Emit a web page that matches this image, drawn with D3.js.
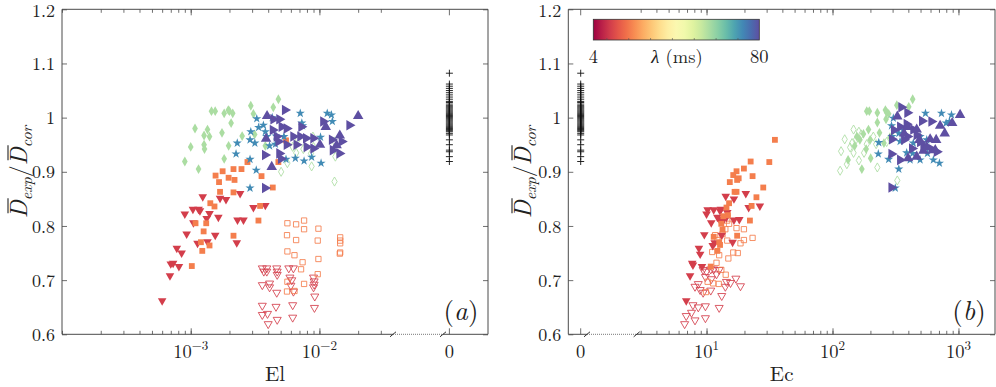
<!DOCTYPE html>
<html>
<head>
<meta charset="utf-8">
<script src="https://cdn.jsdelivr.net/npm/d3@7"></script>
<style>
  body { margin: 0; background: #fff; }
</style>
</head>
<body>
<div id="chart"></div>
<script>
// ---- Datos ----
var yTicks = [0.6, 0.7, 0.8, 0.9, 1.0, 1.1, 1.2];
var yTickLabels = ["0.6", "0.7", "0.8", "0.9", "1", "1.1", "1.2"];
var elTicks = [1e-3, 1e-2];
var elTickExp = ["\u22123", "\u22122"];
var ecTicks = [10, 100, 1000];
var ecTickExp = ["1", "2", "3"];
var lambdaRange = [4, 80];
// lambda (ms) de cada serie, da el color
var lambdaSeries = { red: 12, orange: 21, green: 57, blue: 72, purple: 80 };

// casos con El = Ec = 0
var plusY = [1.082, 1.062, 1.058, 1.054, 1.050, 1.046, 1.042, 1.038, 1.034, 1.030, 1.028, 1.025, 1.022, 1.020,
  1.018, 1.016, 1.014, 1.012, 1.010, 1.008, 1.006, 1.004, 1.002, 1.000, 0.998, 0.996, 0.994, 0.992, 0.990,
  0.988, 0.986, 0.984, 0.982, 0.980, 0.978, 0.976, 0.974, 0.971, 0.968, 0.959, 0.950, 0.940, 0.937, 0.928, 0.919];

// panel (a): [El, Dexp/Dcor]
var elRedFill = [[6.0e-4,0.662],[6.9e-4,0.708],[7.0e-4,0.730],[7.3e-4,0.731],[8.1e-4,0.725],[7.8e-4,0.759],[8.5e-4,0.750],
  [9.3e-4,0.785],[9.0e-4,0.822],[1.04e-3,0.831],[1.05e-3,0.806],[1.15e-3,0.831],[1.18e-3,0.828],[1.24e-3,0.854],
  [1.33e-3,0.814],[1.40e-3,0.823],[1.13e-3,0.768],[1.35e-3,0.771],[1.55e-3,0.783],[1.64e-3,0.816],[1.69e-3,0.851],
  [1.88e-3,0.849],[2.42e-3,0.860],[2.31e-3,0.811],[2.57e-3,0.811],[2.28e-3,0.769],[3.07e-3,0.834],[3.8e-3,0.838]];
var elOrangeFill = [[1.02e-3,0.726],[1.23e-3,0.754],[1.2e-3,0.770],[1.26e-3,0.790],[1.09e-3,0.805],[1.32e-3,0.805],
  [1.40e-3,0.764],[1.42e-3,0.842],[1.53e-3,0.836],[1.56e-3,0.893],[1.66e-3,0.881],[1.69e-3,0.863],[1.77e-3,0.901],
  [1.97e-3,0.889],[2.15e-3,0.905],[2.19e-3,0.885],[2.15e-3,0.862],[2.48e-3,0.905],[2.76e-3,0.918],[3.55e-3,0.892],
  [4.34e-3,0.871],[3.46e-3,0.837],[3.36e-3,0.810],[2.15e-3,0.782],[4.8e-3,0.918],[5.5e-3,0.958]];
var elGreenFill = [[9.0e-4,0.919],[1.0e-3,0.946],[1.15e-3,0.905],[1.08e-3,0.980],[1.27e-3,0.967],[1.27e-3,0.950],
  [1.28e-3,0.942],[1.35e-3,0.978],[1.40e-3,0.965],[1.45e-3,1.012],[1.55e-3,1.012],[1.75e-3,0.972],[1.82e-3,1.008],
  [1.96e-3,1.014],[2.0e-3,1.012],[2.12e-3,1.008],[2.06e-3,0.990],[1.97e-3,0.948],[1.82e-3,0.924],[2.51e-3,0.966],
  [2.93e-3,1.022],[3.07e-3,1.007],[3.14e-3,0.969],[3.8e-3,0.948],[4.38e-3,1.019],[4.8e-3,1.034]];
var elGreenOpen = [[5.04e-3,0.900],[5.64e-3,0.916],[6.2e-3,0.946],[6.6e-3,0.935],[8.7e-3,0.910],[8.9e-3,0.965],
  [9.0e-3,0.946],[1.31e-2,0.882],[1.33e-2,0.928],[1.31e-2,0.956],[5.6e-3,0.953],[8.6e-3,0.934],[6.8e-3,0.960],[7.5e-3,0.942]];
var elBlueStar = [[2.89e-3,0.870],[3.23e-3,0.903],[2.25e-3,0.933],[2.3e-3,0.953],[2.89e-3,0.959],[2.93e-3,0.974],
  [2.89e-3,0.923],[3.15e-3,0.953],[3.26e-3,0.998],[3.37e-3,0.982],[3.67e-3,0.986],[3.8e-3,0.974],[3.9e-3,0.965],
  [4.1e-3,0.948],[4.3e-3,1.0],[4.6e-3,0.966],[4.55e-3,0.951],[5.3e-3,0.965],[5.5e-3,0.923],[6.5e-3,0.925],
  [7.1e-3,1.008],[7.3e-3,0.990],[1.02e-2,0.964],[1.03e-2,0.916],[1.15e-2,1.008],[1.24e-2,1.005],[1.26e-2,0.993],
  [7.4e-3,0.985],[7.6e-3,0.920],[8.7e-3,0.927]];
var elPurpleRight = [[5.4e-3,1.014],[4.39e-3,0.997],[4.88e-3,0.997],[5.09e-3,0.983],[5.57e-3,0.980],[4.34e-3,0.977],
  [4.66e-3,0.965],[4.80e-3,0.956],[6.27e-3,0.965],[7.24e-3,0.983],[7.1e-3,0.965],[7.87e-3,0.962],[8.97e-3,0.962],
  [1.07e-2,0.993],[1.25e-2,0.959],[1.49e-2,0.956],[1.71e-2,0.986],[1.27e-2,0.940],[1.43e-2,0.934],[8.97e-3,0.943],
  [7.96e-3,0.946],[6.64e-3,0.950],[5.57e-3,0.950],[4.88e-3,0.934],[5.03e-3,0.924],[3.78e-3,0.931],[3.78e-3,0.870]];
var elPurpleUp = [[3.92e-3,1.003],[3.85e-3,0.961],[4.26e-3,0.909],[1.12e-2,0.983],[1.44e-2,0.967],[2.0e-2,1.003],
  [1.36e-2,0.949],[1.01e-2,0.950]];
var elRedOpen = [[3.6e-3,0.722],[3.9e-3,0.722],[3.9e-3,0.716],[3.7e-3,0.716],[4.66e-3,0.722],[4.7e-3,0.716],
  [4.7e-3,0.710],[5.78e-3,0.722],[6.28e-3,0.722],[3.6e-3,0.691],[4.1e-3,0.694],[4.1e-3,0.687],[4.66e-3,0.677],
  [5.9e-3,0.705],[6.1e-3,0.700],[6.0e-3,0.690],[6.28e-3,0.679],[3.6e-3,0.653],[4.6e-3,0.651],[6.2e-3,0.654],
  [3.6e-3,0.636],[3.95e-3,0.638],[4.0e-3,0.619],[4.7e-3,0.627],[6.2e-3,0.631],[9.0e-3,0.705],[9.1e-3,0.698],
  [9.1e-3,0.692],[9.0e-3,0.687],[9.2e-3,0.670],[9.15e-3,0.649]];
var elOrangeOpen = [[5.64e-3,0.805],[6.59e-3,0.803],[7.6e-3,0.810],[5.6e-3,0.783],[6.59e-3,0.774],[7.6e-3,0.794],
  [9.82e-3,0.795],[9.7e-3,0.773],[5.64e-3,0.753],[6.4e-3,0.746],[7.4e-3,0.733],[7.2e-3,0.720],[9.82e-3,0.739],
  [9.7e-3,0.711],[5.64e-3,0.697],[5.6e-3,0.679],[6.4e-3,0.680],[7.6e-3,0.693],[1.45e-2,0.779],[1.45e-2,0.773],
  [1.45e-2,0.768],[1.45e-2,0.751],[1.44e-2,0.749]];

// panel (b): [Ec, Dexp/Dcor]
var ecRedFill = [[14.2,0.855],[20.5,0.860],[16.5,0.850],[10.2,0.830],[11.4,0.830],[12.8,0.828],[10.0,0.822],
  [13.0,0.831],[14.4,0.816],[13.7,0.812],[12.8,0.810],[16.5,0.811],[18.2,0.812],[21.6,0.834],[26.5,0.837],
  [10.9,0.806],[13.2,0.783],[9.6,0.784],[11.6,0.769],[11.2,0.764],[8.7,0.759],[8.9,0.748],[7.7,0.731],[7.8,0.728],
  [9.2,0.725],[7.4,0.708],[6.9,0.662],[16.1,0.770],[13.1,0.810],[14.6,0.825],[12.2,0.816]];
var ecOrangeFill = [[34.9,0.959],[31.5,0.918],[22.4,0.919],[19.8,0.906],[17.3,0.901],[16.3,0.894],[15.3,0.881],
  [18.0,0.888],[17.5,0.885],[23.2,0.892],[28.2,0.871],[16.7,0.863],[17.3,0.863],[24.9,0.853],[15.1,0.842],
  [14.4,0.834],[22.8,0.837],[22.1,0.810],[14.8,0.820],[13.1,0.804],[17.5,0.782],[12.8,0.765],[12.6,0.770],
  [12.2,0.754],[10.8,0.725],[11.4,0.780],[13.6,0.818],[13.4,0.793]];
var ecGreenFill = [[187,1.012],[196,1.012],[227,1.009],[263,1.014],[269,1.010],[279,1.007],[324,1.023],[403,1.020],
  [433,1.034],[227,0.991],[266,0.997],[176,0.970],[193,0.978],[156,0.965],[165,0.959],[150,0.948],[199,0.959],
  [236,0.972],[185,0.942],[201,0.925],[171,0.905],[133,0.922],[256,0.953],[286,0.964],[304,0.977]];
var ecGreenOpen = [[125,0.960],[147,0.978],[162,0.974],[154,0.960],[143,0.953],[117,0.938],[130,0.914],[115,0.902],
  [147,0.935],[162,0.921],[178,0.935],[187,0.951],[222,0.951],[227,0.908],[269,0.955],[327,0.884],[138,0.945],
  [169,0.969],[211,0.965]];
var ecBlueStar = [[233,0.954],[231,0.933],[279,0.923],[294,0.985],[304,0.999],[336,0.971],[344,0.956],[388,0.935],
  [433,0.934],[413,0.922],[496,0.922],[547,1.008],[567,0.934],[733,1.008],[849,0.993],[880,1.005],[798,0.990],
  [632,0.922],[706,0.916],[336,0.905],[315,0.870],[296,0.965],[365,0.977],[496,0.965],[438,0.953],[560,0.959]];
var ecPurpleRight = [[294,0.871],[352,1.019],[393,1.009],[297,0.960],[308,0.977],[344,0.983],[388,0.988],[393,0.965],
  [466,0.968],[514,0.994],[610,0.993],[527,0.948],[610,0.942],[673,0.937],[428,0.943],[496,0.955],[294,0.933],
  [344,0.922],[370,0.959],[438,0.978]];
var ecPurpleUp = [[327,1.002],[393,0.983],[466,0.978],[490,0.959],[596,0.960],[715,0.985],[778,0.971],[1030,1.005],
  [891,0.990],[398,0.925],[527,0.939],[665,0.959],[466,0.928],[560,0.946],[654,0.940],[370,0.971]];
var ecRedOpen = [[9.4,0.719],[10.0,0.716],[10.8,0.720],[11.4,0.720],[12.6,0.719],[9.8,0.706],[10.9,0.702],[12.0,0.711],
  [14.4,0.697],[15.5,0.695],[17.1,0.703],[18.6,0.689],[8.6,0.693],[8.1,0.688],[8.9,0.682],[9.4,0.677],[10.8,0.681],
  [14.1,0.688],[13.2,0.671],[7.8,0.654],[8.6,0.650],[9.8,0.652],[12.6,0.649],[7.6,0.640],[6.9,0.634],[8.1,0.626],
  [9.8,0.630],[6.7,0.619]];
var ecOrangeOpen = [[14.6,0.810],[15.1,0.804],[14.1,0.794],[17.3,0.796],[19.8,0.794],[11.7,0.783],[13.4,0.785],
  [12.2,0.774],[14.6,0.773],[18.6,0.768],[19.8,0.774],[23.2,0.778],[11.1,0.752],[12.6,0.746],[16.3,0.751],
  [17.7,0.750],[14.9,0.740],[12.0,0.732],[13.1,0.719],[14.2,0.710],[12.5,0.693],[10.2,0.697],[9.9,0.678],[11.3,0.694]];

// ---- Estilo de las series ----
var seriesStyle = {
  greenOpen:   { sym: d3.symbolDiamond,  size: 24, rot: 0,   lam: "green",  fill: false },
  redOpen:     { sym: d3.symbolTriangle, size: 28, rot: 180, lam: "red",    fill: false },
  orangeOpen:  { sym: d3.symbolSquare,   size: 28, rot: 0,   lam: "orange", fill: false },
  redFill:     { sym: d3.symbolTriangle, size: 32, rot: 180, lam: "red",    fill: true },
  orangeFill:  { sym: d3.symbolSquare,   size: 34, rot: 0,   lam: "orange", fill: true },
  greenFill:   { sym: d3.symbolDiamond,  size: 28, rot: 0,   lam: "green",  fill: true },
  blueStar:    { sym: d3.symbolStar,     size: 26, rot: 0,   lam: "blue",   fill: true },
  purpleRight: { sym: d3.symbolTriangle, size: 48, rot: 90,  lam: "purple", fill: true },
  purpleUp:    { sym: d3.symbolTriangle, size: 48, rot: 0,   lam: "purple", fill: true }
};
var drawOrder = ["greenOpen", "redOpen", "orangeOpen", "redFill", "orangeFill", "greenFill", "blueStar", "purpleRight", "purpleUp"];

var W = 996, H = 387;
var plotTop = 9.3, plotBottom = 334.3;
var axisColor = "#4a4a4a";
var serif = "'Latin Modern Roman'";

var panels = [
  { left: 62, right: 488, logDomain: [1e-4, 0.0373], logRange: [62, 393], brk: [393, 443], zeroX: 449.4,
    ticks: elTicks, tickExp: elTickExp, xLabel: "El", letter: "a", letterX: 461, yLabelX: 27,
    data: { greenOpen: elGreenOpen, redOpen: elRedOpen, orangeOpen: elOrangeOpen, redFill: elRedFill,
            orangeFill: elOrangeFill, greenFill: elGreenFill, blueStar: elBlueStar,
            purpleRight: elPurpleRight, purpleUp: elPurpleUp } },
  { left: 568.3, right: 995, logDomain: [2.79, 1950], logRange: [636.7, 995], brk: [587, 636.7], zeroX: 580.7,
    ticks: ecTicks, tickExp: ecTickExp, xLabel: "Ec", letter: "b", letterX: 969, yLabelX: 531,
    data: { greenOpen: ecGreenOpen, redOpen: ecRedOpen, orangeOpen: ecOrangeOpen, redFill: ecRedFill,
            orangeFill: ecOrangeFill, greenFill: ecGreenFill, blueStar: ecBlueStar,
            purpleRight: ecPurpleRight, purpleUp: ecPurpleUp } }
];

var svg = d3.select("#chart").append("svg").attr("width", W).attr("height", H);

var yScale = d3.scaleLinear().domain([0.6, 1.2]).range([plotBottom, plotTop]);
var colorScale = d3.scaleSequential(d3.interpolateSpectral).domain(lambdaRange);

panels.forEach(function(p) {
  var xLog = d3.scaleLog().domain(p.logDomain).range(p.logRange);
  var xPos = function(v) { return v === 0 ? p.zeroX : xLog(v); };

  var g = svg.append("g");

  // ticks menores del eje log
  var minor = [];
  for (var k = -5; k <= 4; k++) {
    for (var m = 1; m <= 9; m++) {
      var v = m * Math.pow(10, k);
      if (v >= p.logDomain[0] * 0.999 && v <= p.logDomain[1]) minor.push(v);
    }
  }

  // ejes x (abajo y arriba), ticks hacia dentro
  [["bottom", plotBottom, d3.axisBottom], ["top", plotTop, d3.axisTop]].forEach(function(a) {
    g.append("g").attr("transform", "translate(0," + a[1] + ")")
      .call(a[2](xLog).tickValues(minor).tickSize(-3.5).tickFormat(""))
      .call(function(ax) { ax.select(".domain").remove(); });
    g.append("g").attr("transform", "translate(0," + a[1] + ")")
      .call(a[2](xLog).tickValues(p.ticks).tickSize(-6).tickFormat(""))
      .call(function(ax) { ax.select(".domain").remove(); });
    // tick del cero
    g.append("line").attr("x1", p.zeroX).attr("x2", p.zeroX)
      .attr("y1", a[1]).attr("y2", a[0] === "bottom" ? a[1] - 6 : a[1] + 6);
  });

  // ejes y (izquierda con etiquetas, derecha sin)
  g.append("g").attr("transform", "translate(" + p.left + ",0)")
    .call(d3.axisLeft(yScale).tickValues(yTicks).tickSize(-5).tickPadding(7)
      .tickFormat(function(d, i) { return yTickLabels[i]; }))
    .call(function(ax) {
      ax.select(".domain").remove();
      ax.selectAll("text").style("font-size", "18px").attr("dy", "0.34em");
      // la etiqueta de arriba baja un poco para no salirse
      ax.selectAll("text").filter(function(d) { return d === 1.2; }).attr("y", 1.5);
    });
  g.append("g").attr("transform", "translate(" + p.right + ",0)")
    .call(d3.axisRight(yScale).tickValues(yTicks).tickSize(-5).tickFormat(""))
    .call(function(ax) { ax.select(".domain").remove(); });

  g.selectAll("line").attr("stroke", axisColor).attr("stroke-width", 0.8);

  // marco con el corte del eje
  var frame = [
    [p.left, plotTop, p.right, plotTop],
    [p.left, plotTop, p.left, plotBottom],
    [p.right, plotTop, p.right, plotBottom],
    [p.left, plotBottom, p.brk[0], plotBottom],
    [p.brk[1], plotBottom, p.right, plotBottom]
  ];
  g.selectAll("line.frame").data(frame).enter().append("line").attr("class", "frame")
    .attr("x1", function(d) { return d[0]; }).attr("y1", function(d) { return d[1]; })
    .attr("x2", function(d) { return d[2]; }).attr("y2", function(d) { return d[3]; })
    .attr("stroke", axisColor).attr("stroke-width", 1);
  g.append("line").attr("x1", p.brk[0]).attr("x2", p.brk[1]).attr("y1", plotBottom).attr("y2", plotBottom)
    .attr("stroke", "#777").attr("stroke-width", 1).attr("stroke-dasharray", "1,1");
  p.brk.forEach(function(bx) {
    g.append("line").attr("x1", bx - 3).attr("y1", plotBottom + 2.5).attr("x2", bx + 3).attr("y2", plotBottom - 2.5)
      .attr("stroke", "#333").attr("stroke-width", 1);
  });

  // etiquetas de los ticks x
  p.ticks.forEach(function(t, i) {
    var tx = g.append("text").attr("x", xLog(t)).attr("y", 358).attr("text-anchor", "middle").style("font-size", "18.5px");
    tx.append("tspan").text("10");
    tx.append("tspan").attr("dy", -8).style("font-size", "13px").text(p.tickExp[i]);
  });
  g.append("text").attr("x", p.zeroX).attr("y", 358).attr("text-anchor", "middle").style("font-size", "18.5px").text("0");

  // titulos de ejes
  g.append("text").attr("x", (p.left + p.right) / 2).attr("y", 381).attr("text-anchor", "middle")
    .style("font-size", "21px").text(p.xLabel);

  var ylg = g.append("g").attr("transform", "translate(" + p.yLabelX + "," + 172 + ") rotate(-90)");
  var yl = ylg.append("text").attr("text-anchor", "middle").style("font-size", "24px").style("font-family", serif);
  var d1 = yl.append("tspan").style("font-style", "italic").text("D");
  yl.append("tspan").attr("dy", 5).style("font-size", "16px").style("font-style", "italic").text("exp");
  yl.append("tspan").attr("dy", -5).text("/");
  var d2 = yl.append("tspan").style("font-style", "italic").text("D");
  yl.append("tspan").attr("dy", 5).style("font-size", "16px").style("font-style", "italic").text("cor");
  // barras sobre las D (a la altura de las mayusculas)
  [d1, d2].forEach(function(t) {
    var bb = t.node().getBBox();
    ylg.append("line").attr("x1", bb.x + 5).attr("x2", bb.x + bb.width + 1)
      .attr("y1", -19).attr("y2", -19).attr("stroke", "#222").attr("stroke-width", 1.1);
  });

  // letra del panel
  var lt = g.append("text").attr("x", p.letterX).attr("y", 320).attr("text-anchor", "middle").style("font-size", "27px");
  lt.append("tspan").text("(");
  lt.append("tspan").style("font-style", "italic").text(p.letter);
  lt.append("tspan").text(")");

  // casos sin elasticidad (+)
  g.selectAll("path.plus").data(plusY).enter().append("path").attr("class", "plus")
    .attr("d", "M-3.5,0H3.5M0,-3.5V3.5")
    .attr("transform", function(d) { return "translate(" + xPos(0) + "," + yScale(d) + ")"; })
    .attr("stroke", "#111").attr("stroke-width", 0.9).attr("fill", "none");

  // series de puntos
  drawOrder.forEach(function(key) {
    var st = seriesStyle[key];
    var col = colorScale(lambdaSeries[st.lam]);
    var sym = d3.symbol().type(st.sym).size(st.size);
    g.selectAll("path.s-" + key).data(p.data[key]).enter().append("path").attr("class", "s-" + key)
      .attr("d", sym)
      .attr("transform", function(d) { return "translate(" + xPos(d[0]) + "," + yScale(d[1]) + ") rotate(" + st.rot + ")"; })
      .attr("fill", st.fill ? col : "none")
      .attr("stroke", st.fill ? "none" : col)
      .attr("stroke-opacity", 0.85)
      .attr("stroke-width", 1);
  });
});

// ---- Barra de color ----
var cb = { x: 593.3, y: 19.3, w: 166, h: 20.7 };
var defs = svg.append("defs");
var grad = defs.append("linearGradient").attr("id", "spectral");
d3.range(0, 1.001, 0.05).forEach(function(t) {
  grad.append("stop").attr("offset", (t * 100) + "%").attr("stop-color", d3.interpolateSpectral(t));
});
var cbScale = d3.scaleLinear().domain(lambdaRange).range([cb.x, cb.x + cb.w]);
svg.append("rect").attr("x", cb.x).attr("y", cb.y).attr("width", cb.w).attr("height", cb.h)
  .attr("fill", "url(#spectral)").attr("stroke", "#333").attr("stroke-width", 0.8);
svg.append("g").attr("transform", "translate(0," + (cb.y + cb.h) + ")")
  .call(d3.axisTop(cbScale).tickValues(d3.range(10, 80, 10)).tickSize(2).tickFormat(""))
  .call(function(ax) { ax.select(".domain").remove(); ax.selectAll("line").attr("stroke", "#555").attr("stroke-width", 0.6); });
svg.append("text").attr("x", cbScale(4)).attr("y", 63).attr("text-anchor", "middle").style("font-size", "18.5px").text("4");
svg.append("text").attr("x", cbScale(80)).attr("y", 63).attr("text-anchor", "middle").style("font-size", "18.5px").text("80");
var lam = svg.append("text").attr("x", 677).attr("y", 63).attr("text-anchor", "middle").style("font-size", "18.5px");
lam.append("tspan").style("font-style", "italic").text("\u03bb");
lam.append("tspan").text(" (ms)");

// fuente serif en todos los textos
svg.selectAll("text").style("font-family", serif).style("fill", "#222");
</script>
</body>
</html>
